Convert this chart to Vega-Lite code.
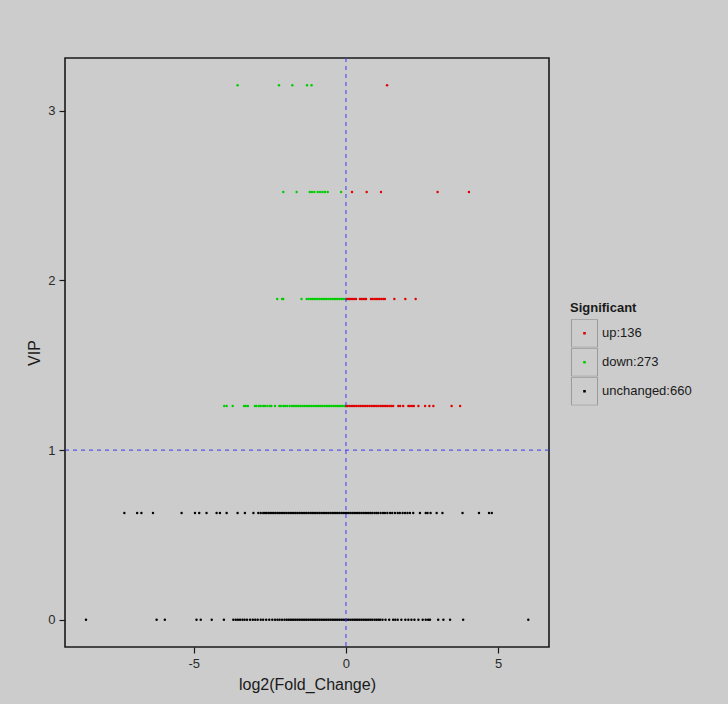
{
"$schema": "https://vega.github.io/schema/vega-lite/v6.json",
"width": 484, "height": 589,
"autosize": {"type": "none"},
"padding": {"left": 65, "top": 58, "right": 179, "bottom": 57},
"background": "#cccccc",
"config": {
  "view": {"stroke": "#1a1a1a", "strokeWidth": 1.6},
  "axis": {"domain": false, "grid": false, "tickColor": "#1a1a1a", "tickSize": 6, "tickWidth": 1.2,
    "labelFont": "Liberation Sans", "labelFontSize": 13, "labelColor": "#2a2a2a", "labelPadding": 4,
    "titleFont": "Liberation Sans", "titleFontSize": 16, "titleFontWeight": "normal", "titleColor": "#1a1a1a"},
  "legend": {"titleFont": "Liberation Sans", "titleFontSize": 13, "titleFontWeight": "bold", "titleColor": "#1a1a1a",
    "labelFont": "Liberation Sans", "labelFontSize": 13, "labelColor": "#1a1a1a", "padding": 0, "rowPadding": 0,
    "titlePadding": 4, "labelOffset": 3, "clipHeight": 28.5}
},
"datasets": {
"keys": [{"key": "up:136"}, {"key": "down:273"}, {"key": "unchanged:660"}],
"pts": [
{"fc":-3.56,"vip":3.15,"sig":"down"},{"fc":-2.20,"vip":3.15,"sig":"down"},{"fc":-1.76,"vip":3.15,"sig":"down"},{"fc":-1.28,"vip":3.15,"sig":"down"},{"fc":-1.13,"vip":3.15,"sig":"down"},{"fc":1.35,"vip":3.15,"sig":"up"},
{"fc":-2.06,"vip":2.52,"sig":"down"},{"fc":-1.62,"vip":2.52,"sig":"down"},{"fc":-1.19,"vip":2.52,"sig":"down"},{"fc":-1.12,"vip":2.52,"sig":"down"},{"fc":-1.04,"vip":2.52,"sig":"down"},{"fc":-0.93,"vip":2.52,"sig":"down"},{"fc":-0.85,"vip":2.52,"sig":"down"},{"fc":-0.77,"vip":2.52,"sig":"down"},{"fc":-0.69,"vip":2.52,"sig":"down"},{"fc":-0.60,"vip":2.52,"sig":"down"},{"fc":-0.16,"vip":2.52,"sig":"down"},
{"fc":0.20,"vip":2.52,"sig":"up"},{"fc":0.68,"vip":2.52,"sig":"up"},{"fc":1.15,"vip":2.52,"sig":"up"},{"fc":3.01,"vip":2.52,"sig":"up"},{"fc":4.04,"vip":2.52,"sig":"up"},
{"fc":-2.26,"vip":1.89,"sig":"down"},{"fc":-2.10,"vip":1.89,"sig":"down"},{"fc":-2.06,"vip":1.89,"sig":"down"},{"fc":-1.46,"vip":1.89,"sig":"down"},
{"fc":-1.29,"vip":1.89,"sig":"down"},{"fc":-1.23,"vip":1.89,"sig":"down"},{"fc":-1.17,"vip":1.89,"sig":"down"},{"fc":-1.11,"vip":1.89,"sig":"down"},{"fc":-1.05,"vip":1.89,"sig":"down"},{"fc":-0.99,"vip":1.89,"sig":"down"},{"fc":-0.93,"vip":1.89,"sig":"down"},{"fc":-0.87,"vip":1.89,"sig":"down"},{"fc":-0.81,"vip":1.89,"sig":"down"},{"fc":-0.75,"vip":1.89,"sig":"down"},{"fc":-0.69,"vip":1.89,"sig":"down"},{"fc":-0.63,"vip":1.89,"sig":"down"},{"fc":-0.57,"vip":1.89,"sig":"down"},{"fc":-0.51,"vip":1.89,"sig":"down"},{"fc":-0.45,"vip":1.89,"sig":"down"},{"fc":-0.39,"vip":1.89,"sig":"down"},{"fc":-0.33,"vip":1.89,"sig":"down"},{"fc":-0.27,"vip":1.89,"sig":"down"},{"fc":-0.21,"vip":1.89,"sig":"down"},{"fc":-0.15,"vip":1.89,"sig":"down"},{"fc":-0.09,"vip":1.89,"sig":"down"},{"fc":-0.03,"vip":1.89,"sig":"down"},
{"fc":0.02,"vip":1.89,"sig":"up"},{"fc":0.07,"vip":1.89,"sig":"up"},{"fc":0.12,"vip":1.89,"sig":"up"},{"fc":0.17,"vip":1.89,"sig":"up"},{"fc":0.22,"vip":1.89,"sig":"up"},{"fc":0.27,"vip":1.89,"sig":"up"},{"fc":0.33,"vip":1.89,"sig":"up"},{"fc":0.46,"vip":1.89,"sig":"up"},{"fc":0.51,"vip":1.89,"sig":"up"},{"fc":0.56,"vip":1.89,"sig":"up"},{"fc":0.62,"vip":1.89,"sig":"up"},{"fc":0.66,"vip":1.89,"sig":"up"},{"fc":0.82,"vip":1.89,"sig":"up"},{"fc":0.87,"vip":1.89,"sig":"up"},{"fc":0.93,"vip":1.89,"sig":"up"},{"fc":0.99,"vip":1.89,"sig":"up"},{"fc":1.05,"vip":1.89,"sig":"up"},{"fc":1.11,"vip":1.89,"sig":"up"},{"fc":1.17,"vip":1.89,"sig":"up"},{"fc":1.23,"vip":1.89,"sig":"up"},{"fc":1.28,"vip":1.89,"sig":"up"},{"fc":1.59,"vip":1.89,"sig":"up"},{"fc":1.95,"vip":1.89,"sig":"up"},{"fc":2.29,"vip":1.89,"sig":"up"},
{"fc":-4.00,"vip":1.26,"sig":"down"},{"fc":-3.92,"vip":1.26,"sig":"down"},{"fc":-3.72,"vip":1.26,"sig":"down"},{"fc":-3.35,"vip":1.26,"sig":"down"},{"fc":-3.29,"vip":1.26,"sig":"down"},{"fc":-3.22,"vip":1.26,"sig":"down"},{"fc":-2.99,"vip":1.26,"sig":"down"},{"fc":-2.94,"vip":1.26,"sig":"down"},{"fc":-2.86,"vip":1.26,"sig":"down"},{"fc":-2.80,"vip":1.26,"sig":"down"},{"fc":-2.72,"vip":1.26,"sig":"down"},{"fc":-2.66,"vip":1.26,"sig":"down"},{"fc":-2.58,"vip":1.26,"sig":"down"},{"fc":-2.50,"vip":1.26,"sig":"down"},{"fc":-2.45,"vip":1.26,"sig":"down"},{"fc":-2.33,"vip":1.26,"sig":"down"},{"fc":-2.19,"vip":1.26,"sig":"down"},{"fc":-2.14,"vip":1.26,"sig":"down"},{"fc":-2.06,"vip":1.26,"sig":"down"},{"fc":-2.00,"vip":1.26,"sig":"down"},{"fc":-1.93,"vip":1.26,"sig":"down"},{"fc":-1.85,"vip":1.26,"sig":"down"},{"fc":-1.78,"vip":1.26,"sig":"down"},
{"fc":-1.73,"vip":1.26,"sig":"down"},{"fc":-1.67,"vip":1.26,"sig":"down"},{"fc":-1.61,"vip":1.26,"sig":"down"},{"fc":-1.55,"vip":1.26,"sig":"down"},{"fc":-1.49,"vip":1.26,"sig":"down"},{"fc":-1.43,"vip":1.26,"sig":"down"},{"fc":-1.37,"vip":1.26,"sig":"down"},{"fc":-1.31,"vip":1.26,"sig":"down"},{"fc":-1.25,"vip":1.26,"sig":"down"},{"fc":-1.19,"vip":1.26,"sig":"down"},{"fc":-1.13,"vip":1.26,"sig":"down"},{"fc":-1.07,"vip":1.26,"sig":"down"},{"fc":-1.01,"vip":1.26,"sig":"down"},{"fc":-0.95,"vip":1.26,"sig":"down"},{"fc":-0.89,"vip":1.26,"sig":"down"},{"fc":-0.83,"vip":1.26,"sig":"down"},{"fc":-0.77,"vip":1.26,"sig":"down"},{"fc":-0.71,"vip":1.26,"sig":"down"},{"fc":-0.65,"vip":1.26,"sig":"down"},{"fc":-0.59,"vip":1.26,"sig":"down"},{"fc":-0.53,"vip":1.26,"sig":"down"},{"fc":-0.47,"vip":1.26,"sig":"down"},{"fc":-0.41,"vip":1.26,"sig":"down"},{"fc":-0.35,"vip":1.26,"sig":"down"},{"fc":-0.29,"vip":1.26,"sig":"down"},{"fc":-0.23,"vip":1.26,"sig":"down"},{"fc":-0.17,"vip":1.26,"sig":"down"},{"fc":-0.11,"vip":1.26,"sig":"down"},{"fc":-0.05,"vip":1.26,"sig":"down"},{"fc":-0.01,"vip":1.26,"sig":"down"},
{"fc":0.01,"vip":1.26,"sig":"up"},{"fc":0.05,"vip":1.26,"sig":"up"},{"fc":0.11,"vip":1.26,"sig":"up"},{"fc":0.17,"vip":1.26,"sig":"up"},{"fc":0.23,"vip":1.26,"sig":"up"},{"fc":0.29,"vip":1.26,"sig":"up"},{"fc":0.35,"vip":1.26,"sig":"up"},{"fc":0.41,"vip":1.26,"sig":"up"},{"fc":0.47,"vip":1.26,"sig":"up"},{"fc":0.53,"vip":1.26,"sig":"up"},{"fc":0.59,"vip":1.26,"sig":"up"},{"fc":0.65,"vip":1.26,"sig":"up"},{"fc":0.71,"vip":1.26,"sig":"up"},{"fc":0.77,"vip":1.26,"sig":"up"},{"fc":0.83,"vip":1.26,"sig":"up"},{"fc":0.89,"vip":1.26,"sig":"up"},{"fc":0.95,"vip":1.26,"sig":"up"},{"fc":1.01,"vip":1.26,"sig":"up"},{"fc":1.07,"vip":1.26,"sig":"up"},{"fc":1.13,"vip":1.26,"sig":"up"},{"fc":1.19,"vip":1.26,"sig":"up"},{"fc":1.25,"vip":1.26,"sig":"up"},{"fc":1.31,"vip":1.26,"sig":"up"},{"fc":1.37,"vip":1.26,"sig":"up"},{"fc":1.43,"vip":1.26,"sig":"up"},{"fc":1.49,"vip":1.26,"sig":"up"},{"fc":1.55,"vip":1.26,"sig":"up"},
{"fc":1.72,"vip":1.26,"sig":"up"},{"fc":1.78,"vip":1.26,"sig":"up"},{"fc":1.88,"vip":1.26,"sig":"up"},{"fc":2.05,"vip":1.26,"sig":"up"},{"fc":2.10,"vip":1.26,"sig":"up"},{"fc":2.17,"vip":1.26,"sig":"up"},{"fc":2.23,"vip":1.26,"sig":"up"},{"fc":2.38,"vip":1.26,"sig":"up"},{"fc":2.60,"vip":1.26,"sig":"up"},{"fc":2.74,"vip":1.26,"sig":"up"},{"fc":2.87,"vip":1.26,"sig":"up"},{"fc":3.47,"vip":1.26,"sig":"up"},{"fc":3.75,"vip":1.26,"sig":"up"},
{"fc":-7.28,"vip":0.63,"sig":"unchanged"},{"fc":-6.86,"vip":0.63,"sig":"unchanged"},{"fc":-6.72,"vip":0.63,"sig":"unchanged"},{"fc":-6.34,"vip":0.63,"sig":"unchanged"},{"fc":-5.40,"vip":0.63,"sig":"unchanged"},{"fc":-4.96,"vip":0.63,"sig":"unchanged"},{"fc":-4.82,"vip":0.63,"sig":"unchanged"},{"fc":-4.58,"vip":0.63,"sig":"unchanged"},{"fc":-4.25,"vip":0.63,"sig":"unchanged"},{"fc":-4.14,"vip":0.63,"sig":"unchanged"},{"fc":-3.92,"vip":0.63,"sig":"unchanged"},{"fc":-3.56,"vip":0.63,"sig":"unchanged"},{"fc":-3.32,"vip":0.63,"sig":"unchanged"},{"fc":-3.04,"vip":0.63,"sig":"unchanged"},{"fc":-2.88,"vip":0.63,"sig":"unchanged"},{"fc":-2.80,"vip":0.63,"sig":"unchanged"},{"fc":-2.72,"vip":0.63,"sig":"unchanged"},{"fc":-2.66,"vip":0.63,"sig":"unchanged"},
{"fc":-2.61,"vip":0.63,"sig":"unchanged"},{"fc":-2.55,"vip":0.63,"sig":"unchanged"},{"fc":-2.49,"vip":0.63,"sig":"unchanged"},{"fc":-2.43,"vip":0.63,"sig":"unchanged"},{"fc":-2.37,"vip":0.63,"sig":"unchanged"},{"fc":-2.31,"vip":0.63,"sig":"unchanged"},{"fc":-2.25,"vip":0.63,"sig":"unchanged"},{"fc":-2.19,"vip":0.63,"sig":"unchanged"},{"fc":-2.13,"vip":0.63,"sig":"unchanged"},{"fc":-2.07,"vip":0.63,"sig":"unchanged"},{"fc":-2.01,"vip":0.63,"sig":"unchanged"},{"fc":-1.95,"vip":0.63,"sig":"unchanged"},{"fc":-1.89,"vip":0.63,"sig":"unchanged"},{"fc":-1.83,"vip":0.63,"sig":"unchanged"},{"fc":-1.77,"vip":0.63,"sig":"unchanged"},{"fc":-1.71,"vip":0.63,"sig":"unchanged"},{"fc":-1.65,"vip":0.63,"sig":"unchanged"},{"fc":-1.59,"vip":0.63,"sig":"unchanged"},{"fc":-1.53,"vip":0.63,"sig":"unchanged"},{"fc":-1.47,"vip":0.63,"sig":"unchanged"},{"fc":-1.41,"vip":0.63,"sig":"unchanged"},{"fc":-1.35,"vip":0.63,"sig":"unchanged"},{"fc":-1.29,"vip":0.63,"sig":"unchanged"},{"fc":-1.23,"vip":0.63,"sig":"unchanged"},{"fc":-1.17,"vip":0.63,"sig":"unchanged"},{"fc":-1.11,"vip":0.63,"sig":"unchanged"},{"fc":-1.05,"vip":0.63,"sig":"unchanged"},{"fc":-0.99,"vip":0.63,"sig":"unchanged"},{"fc":-0.93,"vip":0.63,"sig":"unchanged"},{"fc":-0.87,"vip":0.63,"sig":"unchanged"},{"fc":-0.81,"vip":0.63,"sig":"unchanged"},{"fc":-0.75,"vip":0.63,"sig":"unchanged"},{"fc":-0.69,"vip":0.63,"sig":"unchanged"},{"fc":-0.63,"vip":0.63,"sig":"unchanged"},{"fc":-0.57,"vip":0.63,"sig":"unchanged"},{"fc":-0.51,"vip":0.63,"sig":"unchanged"},{"fc":-0.45,"vip":0.63,"sig":"unchanged"},{"fc":-0.39,"vip":0.63,"sig":"unchanged"},{"fc":-0.33,"vip":0.63,"sig":"unchanged"},{"fc":-0.27,"vip":0.63,"sig":"unchanged"},{"fc":-0.21,"vip":0.63,"sig":"unchanged"},{"fc":-0.15,"vip":0.63,"sig":"unchanged"},{"fc":-0.09,"vip":0.63,"sig":"unchanged"},{"fc":-0.03,"vip":0.63,"sig":"unchanged"},{"fc":0.03,"vip":0.63,"sig":"unchanged"},{"fc":0.09,"vip":0.63,"sig":"unchanged"},{"fc":0.15,"vip":0.63,"sig":"unchanged"},{"fc":0.21,"vip":0.63,"sig":"unchanged"},{"fc":0.27,"vip":0.63,"sig":"unchanged"},{"fc":0.33,"vip":0.63,"sig":"unchanged"},{"fc":0.39,"vip":0.63,"sig":"unchanged"},{"fc":0.45,"vip":0.63,"sig":"unchanged"},{"fc":0.51,"vip":0.63,"sig":"unchanged"},{"fc":0.57,"vip":0.63,"sig":"unchanged"},{"fc":0.63,"vip":0.63,"sig":"unchanged"},{"fc":0.69,"vip":0.63,"sig":"unchanged"},{"fc":0.75,"vip":0.63,"sig":"unchanged"},{"fc":0.81,"vip":0.63,"sig":"unchanged"},{"fc":0.87,"vip":0.63,"sig":"unchanged"},
{"fc":0.94,"vip":0.63,"sig":"unchanged"},{"fc":1.00,"vip":0.63,"sig":"unchanged"},{"fc":1.06,"vip":0.63,"sig":"unchanged"},{"fc":1.14,"vip":0.63,"sig":"unchanged"},{"fc":1.22,"vip":0.63,"sig":"unchanged"},{"fc":1.28,"vip":0.63,"sig":"unchanged"},{"fc":1.36,"vip":0.63,"sig":"unchanged"},{"fc":1.45,"vip":0.63,"sig":"unchanged"},{"fc":1.52,"vip":0.63,"sig":"unchanged"},{"fc":1.61,"vip":0.63,"sig":"unchanged"},{"fc":1.70,"vip":0.63,"sig":"unchanged"},{"fc":1.77,"vip":0.63,"sig":"unchanged"},{"fc":1.86,"vip":0.63,"sig":"unchanged"},{"fc":1.94,"vip":0.63,"sig":"unchanged"},{"fc":2.02,"vip":0.63,"sig":"unchanged"},{"fc":2.10,"vip":0.63,"sig":"unchanged"},{"fc":2.21,"vip":0.63,"sig":"unchanged"},{"fc":2.43,"vip":0.63,"sig":"unchanged"},{"fc":2.62,"vip":0.63,"sig":"unchanged"},{"fc":2.68,"vip":0.63,"sig":"unchanged"},{"fc":2.78,"vip":0.63,"sig":"unchanged"},{"fc":2.98,"vip":0.63,"sig":"unchanged"},{"fc":3.17,"vip":0.63,"sig":"unchanged"},{"fc":3.83,"vip":0.63,"sig":"unchanged"},{"fc":4.37,"vip":0.63,"sig":"unchanged"},{"fc":4.70,"vip":0.63,"sig":"unchanged"},{"fc":4.79,"vip":0.63,"sig":"unchanged"},
{"fc":-8.54,"vip":0,"sig":"unchanged"},{"fc":-6.22,"vip":0,"sig":"unchanged"},{"fc":-5.95,"vip":0,"sig":"unchanged"},{"fc":-4.91,"vip":0,"sig":"unchanged"},{"fc":-4.77,"vip":0,"sig":"unchanged"},{"fc":-4.41,"vip":0,"sig":"unchanged"},{"fc":-4.01,"vip":0,"sig":"unchanged"},{"fc":-3.70,"vip":0,"sig":"unchanged"},{"fc":-3.62,"vip":0,"sig":"unchanged"},{"fc":-3.55,"vip":0,"sig":"unchanged"},{"fc":-3.48,"vip":0,"sig":"unchanged"},{"fc":-3.40,"vip":0,"sig":"unchanged"},{"fc":-3.33,"vip":0,"sig":"unchanged"},{"fc":-3.25,"vip":0,"sig":"unchanged"},{"fc":-3.15,"vip":0,"sig":"unchanged"},{"fc":-3.06,"vip":0,"sig":"unchanged"},{"fc":-2.98,"vip":0,"sig":"unchanged"},{"fc":-2.90,"vip":0,"sig":"unchanged"},{"fc":-2.80,"vip":0,"sig":"unchanged"},{"fc":-2.72,"vip":0,"sig":"unchanged"},{"fc":-2.62,"vip":0,"sig":"unchanged"},{"fc":-2.52,"vip":0,"sig":"unchanged"},{"fc":-2.42,"vip":0,"sig":"unchanged"},{"fc":-2.33,"vip":0,"sig":"unchanged"},{"fc":-2.25,"vip":0,"sig":"unchanged"},{"fc":-2.18,"vip":0,"sig":"unchanged"},{"fc":-2.10,"vip":0,"sig":"unchanged"},{"fc":-2.02,"vip":0,"sig":"unchanged"},
{"fc":-1.95,"vip":0,"sig":"unchanged"},{"fc":-1.89,"vip":0,"sig":"unchanged"},{"fc":-1.83,"vip":0,"sig":"unchanged"},{"fc":-1.77,"vip":0,"sig":"unchanged"},{"fc":-1.71,"vip":0,"sig":"unchanged"},{"fc":-1.65,"vip":0,"sig":"unchanged"},{"fc":-1.59,"vip":0,"sig":"unchanged"},{"fc":-1.53,"vip":0,"sig":"unchanged"},{"fc":-1.47,"vip":0,"sig":"unchanged"},{"fc":-1.41,"vip":0,"sig":"unchanged"},{"fc":-1.35,"vip":0,"sig":"unchanged"},{"fc":-1.29,"vip":0,"sig":"unchanged"},{"fc":-1.23,"vip":0,"sig":"unchanged"},{"fc":-1.17,"vip":0,"sig":"unchanged"},{"fc":-1.11,"vip":0,"sig":"unchanged"},{"fc":-1.05,"vip":0,"sig":"unchanged"},{"fc":-0.99,"vip":0,"sig":"unchanged"},{"fc":-0.93,"vip":0,"sig":"unchanged"},{"fc":-0.87,"vip":0,"sig":"unchanged"},{"fc":-0.81,"vip":0,"sig":"unchanged"},{"fc":-0.75,"vip":0,"sig":"unchanged"},{"fc":-0.69,"vip":0,"sig":"unchanged"},{"fc":-0.63,"vip":0,"sig":"unchanged"},{"fc":-0.57,"vip":0,"sig":"unchanged"},{"fc":-0.51,"vip":0,"sig":"unchanged"},{"fc":-0.45,"vip":0,"sig":"unchanged"},{"fc":-0.39,"vip":0,"sig":"unchanged"},{"fc":-0.33,"vip":0,"sig":"unchanged"},{"fc":-0.27,"vip":0,"sig":"unchanged"},{"fc":-0.21,"vip":0,"sig":"unchanged"},{"fc":-0.15,"vip":0,"sig":"unchanged"},{"fc":-0.09,"vip":0,"sig":"unchanged"},{"fc":-0.03,"vip":0,"sig":"unchanged"},{"fc":0.03,"vip":0,"sig":"unchanged"},{"fc":0.09,"vip":0,"sig":"unchanged"},{"fc":0.15,"vip":0,"sig":"unchanged"},{"fc":0.21,"vip":0,"sig":"unchanged"},{"fc":0.27,"vip":0,"sig":"unchanged"},{"fc":0.33,"vip":0,"sig":"unchanged"},{"fc":0.39,"vip":0,"sig":"unchanged"},{"fc":0.45,"vip":0,"sig":"unchanged"},{"fc":0.51,"vip":0,"sig":"unchanged"},{"fc":0.57,"vip":0,"sig":"unchanged"},{"fc":0.63,"vip":0,"sig":"unchanged"},{"fc":0.69,"vip":0,"sig":"unchanged"},{"fc":0.75,"vip":0,"sig":"unchanged"},{"fc":0.81,"vip":0,"sig":"unchanged"},{"fc":0.87,"vip":0,"sig":"unchanged"},
{"fc":0.94,"vip":0,"sig":"unchanged"},{"fc":1.00,"vip":0,"sig":"unchanged"},{"fc":1.06,"vip":0,"sig":"unchanged"},{"fc":1.12,"vip":0,"sig":"unchanged"},{"fc":1.20,"vip":0,"sig":"unchanged"},{"fc":1.30,"vip":0,"sig":"unchanged"},{"fc":1.42,"vip":0,"sig":"unchanged"},{"fc":1.55,"vip":0,"sig":"unchanged"},{"fc":1.62,"vip":0,"sig":"unchanged"},{"fc":1.70,"vip":0,"sig":"unchanged"},{"fc":1.82,"vip":0,"sig":"unchanged"},{"fc":1.95,"vip":0,"sig":"unchanged"},{"fc":2.05,"vip":0,"sig":"unchanged"},{"fc":2.15,"vip":0,"sig":"unchanged"},{"fc":2.25,"vip":0,"sig":"unchanged"},{"fc":2.38,"vip":0,"sig":"unchanged"},{"fc":2.52,"vip":0,"sig":"unchanged"},{"fc":2.62,"vip":0,"sig":"unchanged"},{"fc":2.70,"vip":0,"sig":"unchanged"},{"fc":2.76,"vip":0,"sig":"unchanged"},{"fc":3.03,"vip":0,"sig":"unchanged"},{"fc":3.20,"vip":0,"sig":"unchanged"},{"fc":3.42,"vip":0,"sig":"unchanged"},{"fc":3.85,"vip":0,"sig":"unchanged"},{"fc":5.99,"vip":0,"sig":"unchanged"}
]
},
"layer": [
  {
    "data": {"name": "pts"},
    "mark": {"type": "point", "filled": true, "size": 6, "opacity": 1},
    "encoding": {
      "x": {"field": "fc", "type": "quantitative", "scale": {"domain": [-9.23, 6.67], "nice": false, "zero": false},
        "axis": {"values": [-5, 0, 5], "title": "log2(Fold_Change)", "labelExpr": "'' + datum.value", "titlePadding": 6}},
      "y": {"field": "vip", "type": "quantitative", "scale": {"domain": [-0.16, 3.31], "nice": false, "zero": false},
        "axis": {"values": [0, 1, 2, 3], "title": "VIP", "labelExpr": "'' + datum.value", "titlePadding": 5}},
      "color": {"field": "sig", "type": "nominal",
        "scale": {"domain": ["up", "down", "unchanged"], "range": ["#e00000", "#00cd00", "#000000"]},
        "legend": {"orient": "none", "legendX": 505, "legendY": 244, "title": "Significant", "titleOpacity": 0, "labelExpr": "''",
          "symbolType": "M-0.09,-0.09H0.09V0.09H-0.09Z", "symbolSize": 841, "symbolStrokeWidth": 0, "symbolOpacity": 1}}
    }
  },
  {
    "data": {"name": "keys"},
    "mark": {"type": "point", "filled": false, "opacity": 0},
    "encoding": {
      "shape": {"field": "key", "type": "nominal",
        "scale": {"domain": ["up:136", "down:273", "unchanged:660"], "range": ["M-0.93,-1H0.93V1H-0.93Z", "M-0.93,-1H0.93V1H-0.93Z", "M-0.93,-1H0.93V1H-0.93Z"]},
        "legend": {"orient": "none", "legendX": 505, "legendY": 244, "title": "Significant", "symbolSize": 784,
          "symbolStrokeColor": "#9a9a9a", "symbolStrokeWidth": 1, "symbolFillColor": "transparent", "symbolOpacity": 1}}
    }
  },
  {
    "data": {"values": [{}]},
    "mark": {"type": "rule", "color": "#3c3cf0", "strokeDash": [4, 4], "strokeWidth": 1},
    "encoding": {"x": {"datum": 0}}
  },
  {
    "data": {"values": [{}]},
    "mark": {"type": "rule", "color": "#3c3cf0", "strokeDash": [4, 4], "strokeWidth": 1},
    "encoding": {"y": {"datum": 1}}
  }
]
}
